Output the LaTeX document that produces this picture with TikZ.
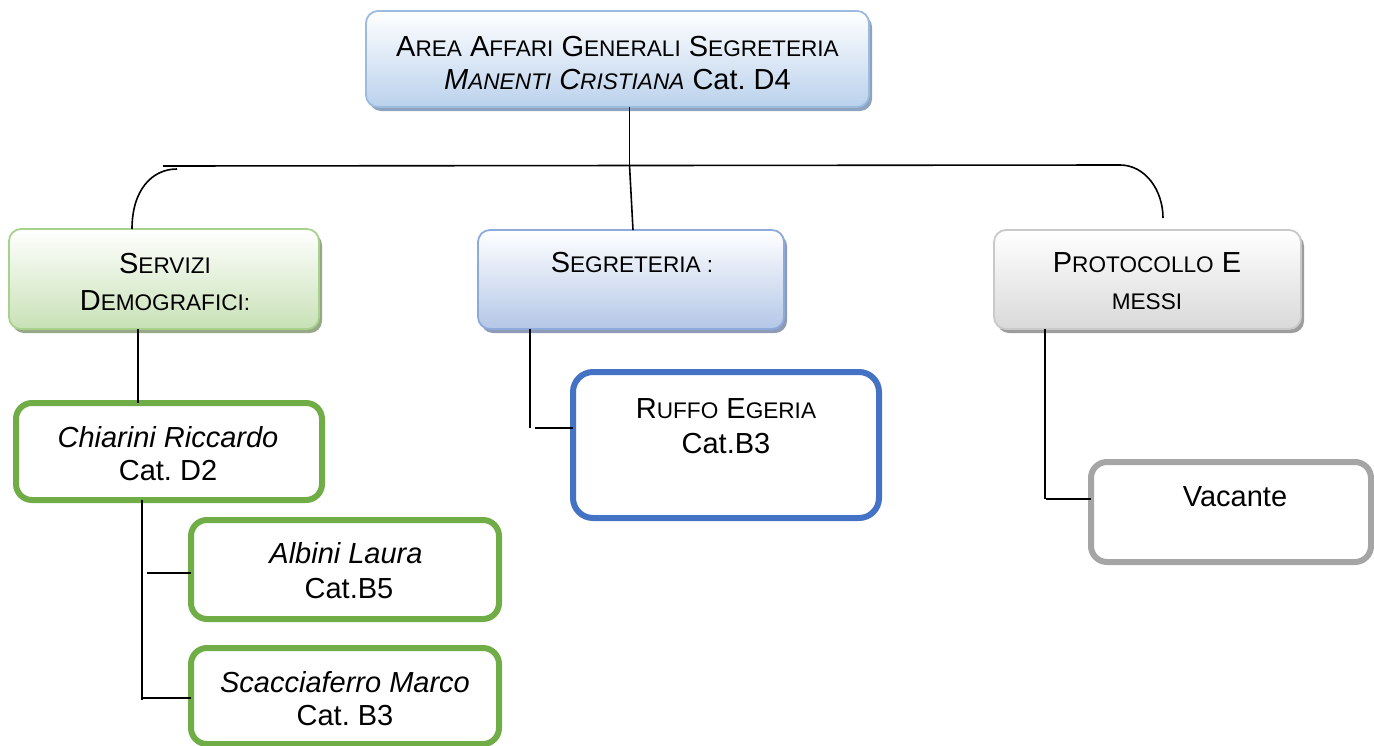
\documentclass[tikz,border=0pt]{standalone}
\usepackage{fontspec}
\setmainfont{Liberation Sans}
\usetikzlibrary{shadows}
\frenchspacing

\definecolor{topEdge}{HTML}{9BBBDF}
\definecolor{topFill}{HTML}{BAD1EC}
\definecolor{topShadow}{HTML}{8EA3BF}
\definecolor{segEdge}{HTML}{8EAADB}
\definecolor{segFill}{HTML}{B4C7E7}
\definecolor{segShadow}{HTML}{8D9BB6}
\definecolor{grnEdge}{HTML}{A9D18E}
\definecolor{grnFill}{HTML}{C8E1B6}
\definecolor{grnShadow}{HTML}{97A889}
\definecolor{gryEdge}{HTML}{C9C9C9}
\definecolor{gryFill}{HTML}{D9D9D9}
\definecolor{gryShadow}{HTML}{9C9C9C}
\definecolor{grnLine}{HTML}{70AD47}
\definecolor{bluLine}{HTML}{4472C4}
\definecolor{gryLine}{HTML}{A5A5A5}

% small capitals in the Word style: first letter full size, rest reduced
\newcommand\wsc[2]{#1{\fontsize{22.6}{34}\selectfont #2}}
\newcommand\smallcaps[1]{{\fontsize{22.6}{34}\selectfont #1}}

\tikzset{
  unitbox/.style={rectangle, rounded corners=12pt, line width=1.8pt,
    inner sep=0pt, outer sep=0pt},
  shade box/.style n args={3}{unitbox, draw=#1, top color=white, bottom color=#2,
    drop shadow={shadow xshift=3pt, shadow yshift=-4pt, fill=#3, opacity=1}},
  topbox/.style={shade box={topEdge}{topFill}{topShadow}},
  segbox/.style={shade box={segEdge}{segFill}{segShadow}},
  grnbox/.style={shade box={grnEdge}{grnFill}{grnShadow}},
  grybox/.style={shade box={gryEdge}{gryFill}{gryShadow}},
  staff/.style={rectangle, rounded corners=16pt, line width=6pt, fill=white,
    inner sep=0pt, outer sep=0pt, draw=#1},
  txt/.style={align=center, inner sep=0pt, font=\fontsize{29}{34}\selectfont},
  link/.style={line width=1.6pt, black},
}

\begin{document}
\begin{tikzpicture}[x=1pt, y=-1pt]
\useasboundingbox (0,0) rectangle (1374,745);

% --- head of the area
\node[topbox, minimum width=503pt, minimum height=96pt] (top) at (617.5,59) {};
\node[txt, font=\fontsize{29}{33}\selectfont] (topT) at (617.5,63.5)
  {\wsc{A}{REA} \wsc{A}{FFARI} \wsc{G}{ENERALI} \wsc{S}{EGRETERIA}\\
   \textit{\wsc{M}{ANENTI} \wsc{C}{RISTIANA}} Cat. D4};

% --- offices
\node[grnbox, minimum width=310pt, minimum height=100pt] (serv) at (164,279) {};
\node[txt, font=\fontsize{29}{37}\selectfont] (servT) at (165,281.5)
  {\wsc{S}{ERVIZI}\\\wsc{D}{EMOGRAFICI:}};

\node[segbox, minimum width=306pt, minimum height=99pt] (seg) at (631,279.5) {};
\node[txt] (segT) at (632,263) {\wsc{S}{EGRETERIA :}};

\node[grybox, minimum width=307pt, minimum height=99pt] (prot) at (1147.5,279.5) {};
\node[txt, font=\fontsize{29}{37}\selectfont] (protT) at (1147,281.5)
  {\wsc{P}{ROTOCOLLO} E\\\smallcaps{MESSI}};

% --- staff
\node[staff=grnLine, minimum width=306pt, minimum height=97pt] (chi) at (169,451.5) {};
\node[txt, font=\fontsize{29}{33}\selectfont] (chiT) at (168,453.5)
  {\textit{Chiarini Riccardo}\\Cat. D2};

\node[staff=grnLine, minimum width=308pt, minimum height=99pt] (alb) at (345,569.5) {};
\node[txt, font=\fontsize{29}{35}\selectfont] (albT) at (346,570.5)
  {\textit{Albini Laura}\\\hspace*{6pt}Cat.B5};

\node[staff=grnLine, minimum width=308pt, minimum height=96pt] (sca) at (345,696) {};
\node[txt, font=\fontsize{29}{33}\selectfont] (scaT) at (345,698.5)
  {\textit{Scacciaferro Marco}\\Cat. B3};

\node[staff=bluLine, rounded corners=20pt, minimum width=306pt, minimum height=146pt] (ruf) at (726,445) {};
\node[txt, font=\fontsize{29}{35}\selectfont] (rufT) at (726,426.5)
  {\wsc{R}{UFFO} \wsc{E}{GERIA}\\Cat.B3};

\node[staff=gryLine, minimum width=280pt, minimum height=100pt] (vac) at (1231,512) {};
\node[txt] (vacT) at (1235,497) {Vacante};

% --- connectors from the head to the offices
\coordinate (hM) at (629.5,165);
\coordinate (hL) at (163,166);
\coordinate (hR) at (1120,165);
\coordinate (cL) at (177,169);
\coordinate (cR) at (1163,218);
\draw[link] (hM |- top.south) -- (hM);
\draw[link] (hM) -- ([xshift=2pt]seg.north);
\draw[link] (hL) -- (hR);
\draw[link] (hR) .. controls (1145,165) and (1163,190) .. (cR);
\draw[link] (cL) .. controls (152,169) and (132,190) .. ([xshift=-32pt]serv.north);

% --- offices to their staff
\coordinate (sd) at ([xshift=-26pt]serv.south);
\draw[link] (sd) -- (sd |- chi.north);

\coordinate (cd) at ([xshift=-27pt]chi.south);
\coordinate (cdEnd) at (142,700);
\draw[link] (cd) -- (cdEnd);
\coordinate (ca) at (147,573);
\draw[link] (ca) -- (ca -| alb.west);
\coordinate (cs) at (143,698);
\draw[link] (cs) -- (cs -| sca.west);

\coordinate (gd) at ([xshift=-101pt]seg.south);
\coordinate (gdEnd) at (530,428);
\draw[link] (gd) -- (gdEnd);
\coordinate (gr) at (535,428);
\draw[link] (gr) -- (gr -| ruf.west);

\coordinate (pd) at ([xshift=-102.5pt]prot.south);
\coordinate (pdEnd) at (1045,499);
\draw[link] (pd) -- (pdEnd);
\coordinate (pv) at (1046,499);
\draw[link] (pv) -- (pv -| vac.west);
\end{tikzpicture}
\end{document}
